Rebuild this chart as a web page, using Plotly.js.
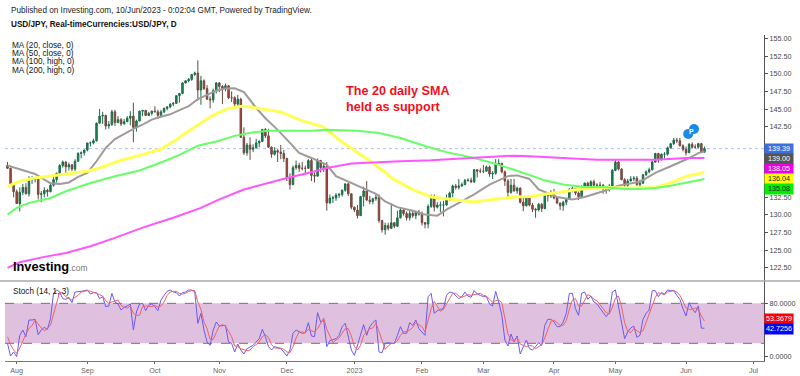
<!DOCTYPE html>
<html><head><meta charset="utf-8">
<script src="https://cdn.plot.ly/plotly-3.0.1.min.js"></script>
<style>html,body{margin:0;padding:0;background:#fff}#c{width:800px;height:376px}</style>
</head><body><div id="c"></div>
<script>
const opens=[137.0,136.6,134.3,133.3,131.6,133.2,133.9,133.0,135.0,135.0,135.1,132.9,133.0,133.5,133.3,134.2,135.0,135.9,137.0,137.5,136.8,137.1,136.5,137.6,138.7,138.8,139.2,140.2,140.2,140.5,143.0,144.0,144.1,142.6,142.8,144.6,143.1,143.5,142.9,143.2,143.7,144.0,142.4,143.3,144.7,144.8,144.1,144.4,144.7,144.6,144.1,144.6,145.1,145.3,145.7,145.8,146.9,147.2,148.7,149.0,149.2,149.9,150.1,147.7,149.0,147.9,146.4,146.3,147.6,148.7,148.2,147.9,148.3,146.6,146.6,145.7,146.4,141.0,138.8,139.9,139.3,139.5,140.2,140.4,142.1,141.2,139.6,138.6,139.1,138.9,138.7,138.0,135.3,134.3,136.7,137.0,136.6,136.6,136.6,137.7,135.6,135.5,137.7,136.7,136.9,131.7,132.4,132.4,132.8,132.9,133.5,134.4,133.0,131.1,130.7,129.9,132.6,133.4,132.1,131.9,132.3,132.5,129.2,127.9,128.5,128.1,128.9,128.4,129.6,130.7,130.2,129.6,130.2,129.9,130.4,130.1,128.9,128.7,131.2,132.6,131.1,131.4,131.4,131.4,132.4,133.1,134.1,133.9,134.1,134.3,134.9,134.9,134.7,136.4,136.2,136.2,136.2,136.8,135.8,135.9,137.2,137.3,136.1,134.8,133.2,134.2,133.4,133.8,131.8,131.3,132.5,131.4,130.8,130.7,131.5,130.9,132.9,132.7,132.8,132.4,131.7,131.3,131.8,132.2,133.6,133.7,133.1,132.6,133.8,134.5,134.1,134.7,134.2,134.2,134.2,133.7,133.6,133.9,136.3,137.5,136.5,135.0,134.2,134.8,135.1,135.2,134.3,134.5,135.7,136.1,136.4,137.5,138.7,137.9,138.6,138.6,139.5,140.1,140.6,140.5,139.8,139.3,138.8,140.0,139.6,139.6,140.1,138.9];
const highs=[137.5,136.7,134.5,133.6,133.9,134.4,134.5,135.5,135.5,135.3,135.2,133.4,133.9,133.7,134.6,135.5,136.0,137.2,137.7,137.6,137.4,137.2,137.9,138.9,139.0,139.1,140.2,140.4,140.8,143.1,145.0,144.6,144.2,143.3,144.9,144.9,144.0,143.7,143.6,144.0,144.7,145.9,143.5,144.8,144.9,144.9,144.6,144.8,145.4,144.9,144.9,145.2,145.4,145.8,146.0,146.9,147.2,148.8,149.1,149.4,149.9,150.3,151.9,149.7,149.2,148.4,146.8,147.9,148.8,148.8,148.4,148.6,148.4,147.5,146.8,147.0,146.6,142.4,140.2,141.0,140.0,140.8,140.6,142.2,142.3,142.2,139.7,139.6,139.3,139.9,139.2,138.1,135.9,137.0,137.7,137.4,137.5,137.0,137.9,138.2,136.0,138.0,137.8,137.4,137.5,132.9,132.7,133.1,133.1,133.6,134.4,134.5,133.0,131.2,131.4,132.7,134.0,134.8,132.7,132.3,132.9,132.9,129.3,128.9,128.9,131.6,129.0,130.6,131.1,130.8,130.5,130.6,130.6,130.6,130.7,130.5,129.0,131.5,132.9,132.9,131.8,131.9,132.0,132.9,133.3,134.3,134.4,135.1,134.6,135.1,135.2,135.3,136.5,136.5,136.6,137.1,137.0,137.0,136.2,137.9,137.9,137.4,136.3,135.1,135.1,135.1,134.0,133.9,132.6,132.7,132.6,131.7,131.0,131.7,131.7,132.9,133.0,133.5,133.7,132.6,131.7,132.0,132.4,133.8,134.0,133.8,133.3,134.2,134.6,134.7,134.9,135.0,134.5,134.7,134.4,133.9,134.4,136.5,137.8,137.6,136.6,135.2,135.1,135.5,135.5,135.5,135.0,135.8,136.3,136.7,137.7,138.8,138.8,138.7,138.9,139.7,140.2,140.9,140.9,140.9,140.0,139.7,140.2,140.3,140.0,140.2,140.2,139.7];
const lows=[136.5,134.2,132.5,131.6,130.5,132.8,132.9,132.6,134.4,134.6,132.2,131.8,132.5,132.6,133.2,134.0,134.6,135.8,136.7,135.8,136.3,136.2,136.2,137.6,138.0,138.4,139.0,139.7,140.0,140.4,143.0,142.9,142.1,142.2,142.6,142.6,143.0,142.6,142.8,143.2,142.7,140.3,141.8,143.3,144.0,144.0,144.0,144.1,144.6,143.6,143.9,144.4,144.8,145.1,145.4,145.8,145.9,147.1,148.6,148.8,149.0,149.7,146.2,145.6,147.7,146.3,145.1,145.9,147.2,147.4,145.7,147.5,146.4,146.0,145.3,145.2,140.9,138.5,138.4,137.8,138.9,139.4,139.6,140.4,140.9,139.5,138.1,138.4,137.5,137.9,137.5,134.8,133.6,134.2,136.4,136.1,136.3,135.9,136.5,134.8,134.6,135.4,136.0,136.1,130.6,131.6,131.7,132.0,132.4,132.6,133.3,132.7,130.8,130.4,129.5,129.9,131.2,132.0,131.5,131.5,132.0,128.9,127.5,127.2,127.8,128.0,128.1,128.3,129.5,129.9,129.2,129.2,129.6,129.4,129.9,128.5,128.1,128.1,131.0,130.5,130.9,130.4,129.8,131.3,132.0,132.5,133.6,133.6,134.0,134.2,134.7,134.5,134.5,135.3,135.9,135.9,136.1,135.4,135.1,135.7,137.1,135.9,134.1,132.3,133.0,133.3,133.0,131.6,130.5,131.2,131.2,130.4,129.6,130.5,130.4,130.8,131.9,132.4,132.2,131.5,130.7,130.6,131.4,132.2,133.2,132.8,132.1,132.5,133.8,133.8,134.1,134.0,133.9,134.0,133.0,133.0,133.3,133.8,136.2,136.3,134.9,133.5,133.6,134.8,134.8,134.1,133.8,134.4,135.5,135.9,136.3,137.4,137.4,137.7,138.0,138.4,139.4,139.9,140.2,139.7,139.0,138.4,138.8,139.4,139.4,139.4,138.8,138.8];
const closes=[136.6,134.3,133.3,131.6,133.2,133.9,133.0,135.0,135.0,135.1,132.9,133.0,133.5,133.3,134.2,135.0,135.9,137.0,137.5,136.8,137.1,136.5,137.6,138.7,138.8,139.2,140.2,140.2,140.5,143.0,144.0,144.1,142.6,142.8,144.6,143.1,143.5,142.9,143.2,143.7,144.0,142.4,143.3,144.7,144.8,144.1,144.4,144.7,144.6,144.1,144.6,145.1,145.3,145.7,145.8,146.9,147.2,148.7,149.0,149.2,149.9,150.1,147.7,149.0,147.9,146.4,146.3,147.6,148.7,148.2,147.9,148.3,146.6,146.6,145.7,146.4,141.0,138.8,139.9,139.3,139.5,140.2,140.4,142.1,141.2,139.6,138.6,139.1,138.9,138.7,138.0,135.3,134.3,136.7,137.0,136.6,136.6,136.6,137.7,135.6,135.5,137.7,136.7,136.9,131.7,132.4,132.4,132.8,132.9,133.5,134.4,133.0,131.1,130.7,129.9,132.6,133.4,132.1,131.9,132.3,132.5,129.2,127.9,128.5,128.1,128.9,128.4,129.6,130.7,130.2,129.6,130.2,129.9,130.4,130.1,128.9,128.7,131.2,132.6,131.1,131.4,131.4,131.4,132.4,133.1,134.1,133.9,134.1,134.3,134.9,134.9,134.7,136.4,136.2,136.2,136.2,136.8,135.8,135.9,137.2,137.3,136.1,134.8,133.2,134.2,133.4,133.8,131.8,131.3,132.5,131.4,130.8,130.7,131.5,130.9,132.9,132.7,132.8,132.4,131.7,131.3,131.8,132.2,133.6,133.7,133.1,132.6,133.8,134.5,134.1,134.7,134.2,134.2,134.2,133.7,133.6,133.9,136.3,137.5,136.5,135.0,134.2,134.8,135.1,135.2,134.3,134.5,135.7,136.1,136.4,137.5,138.7,137.9,138.6,138.6,139.5,140.1,140.6,140.5,139.8,139.3,138.8,140.0,139.6,139.6,140.1,138.9,139.39];

const ma20Bars=[0,3,6,9,12,14,17,20,23,26,29,32,35,38,41,44,47,50,53,56,59,62,65,68,71,74,77,81,84,88,92,95,99,104,107,112,116,120,123,127,132,136,140,143,147,152,157,163,166,170,173,179,184,188,194,199,206,211,216,221,225,227];
const ma20Vals=[137.0,136.6,136.2,135.8,135.0,134.5,134.4,134.6,135.4,135.95,137.6,139.5,140.75,141.5,142.2,142.8,143.5,143.9,144.25,144.85,145.4,146.4,147.0,147.6,147.9,147.95,147.4,145.15,143.7,142.05,140.2,138.8,138.07,137.1,135.5,134.5,133.8,133.0,131.9,131.1,130.6,130.05,129.9,130.75,131.7,132.9,134.3,135.5,135.6,135.1,133.6,132.55,132.2,132.55,133.35,134.15,134.7,135.95,136.9,137.85,138.75,139.0];
const ma50Bars=[0,4,9,15,21,26,30,37,44,50,55,57,62,67,72,77,81,89,95,103,108,115,119,126,132,138,143,152,158,165,170,179,187,195,203,211,216,221,227];
const ma50Vals=[134.06,134.77,135.24,135.57,135.95,136.2,136.65,137.74,138.54,139.34,140.66,141.3,142.75,144.15,145.1,145.43,145.15,144.6,143.5,142.45,140.66,138.5,137.36,135.0,133.6,132.55,132.27,131.84,132.17,132.55,132.6,133.2,133.68,133.9,133.8,133.9,134.53,135.47,136.04];
const ma100Bars=[0,3,7,14,19,27,35,43,51,56,62,68,74,80,85,99,104,114,121,128,137,143,152,158,165,170,175,181,188,194,201,206,211,216,221,227];
const ma100Vals=[130.05,131.0,131.7,132.4,133.35,134.53,135.47,136.3,137.6,138.5,139.8,140.4,141.2,141.7,141.94,141.94,142.08,141.94,141.6,140.9,139.63,138.9,138.07,137.36,136.4,135.7,134.9,134.3,133.97,133.97,133.68,133.68,133.82,134.15,134.53,135.08];
const ma200Bars=[0,4,12,19,27,35,44,54,63,69,77,82,91,99,104,112,119,128,138,147,158,165,170,181,192,203,211,217,221,227];
const ma200Vals=[122.5,123.3,124.06,124.6,125.57,126.75,128.2,129.6,131.0,132.2,133.6,134.2,135.24,136.04,136.65,137.27,137.46,137.6,137.74,137.93,138.2,138.4,138.3,138.07,137.83,137.83,137.83,137.97,138.07,138.05];

const stochK=[20,1,7,0,32,40,30,55,55,56,33,40,44,41,57,95,100,97,87,86,89,81,97,97,98,99,100,94,96,96,87,90,75,76,95,82,79,70,74,76,79,40,67,79,80,69,77,79,75,69,85,92,98,100,97,96,91,96,97,100,100,97,50,65,40,22,17,40,52,46,46,47,22,20,7,19,10,4,12,15,17,22,27,41,30,15,10,15,13,12,7,1,10,35,40,37,35,36,51,31,30,66,52,55,15,24,25,27,32,45,50,32,10,2,17,32,48,32,45,51,55,7,6,20,21,20,20,32,45,35,35,51,47,55,42,37,32,90,95,65,69,71,72,92,97,96,91,87,90,97,91,89,99,94,92,90,90,79,76,98,82,62,25,16,34,22,31,4,15,25,12,10,15,21,17,47,56,56,52,45,45,52,65,95,95,72,62,95,97,86,91,82,79,72,67,60,66,97,100,75,50,27,37,43,46,29,32,56,65,70,99,99,90,96,94,100,99,99,92,86,72,61,81,72,66,76,42.7256,42.7256];
const stochD=[30,18,10,5,13,24,34,42,47,55,48,43,39,42,47,64,84,97,95,90,87,85,89,92,97,98,99,98,97,95,93,91,84,80,82,84,85,77,74,73,76,65,62,62,75,76,75,75,77,74,76,82,92,97,98,98,95,94,95,98,99,99,82,71,52,42,26,26,36,46,48,46,38,30,16,15,12,11,9,10,15,18,22,30,33,29,18,13,13,13,11,7,6,15,28,37,37,36,41,39,37,42,49,58,41,31,21,25,28,35,42,42,31,15,10,17,32,37,42,43,50,38,23,11,16,20,20,24,32,37,38,40,44,51,48,45,37,53,72,83,76,68,71,78,87,95,95,91,89,91,93,92,93,94,95,92,91,86,82,84,85,81,56,34,25,24,29,19,17,15,17,16,12,15,18,28,40,53,55,51,47,47,54,71,85,87,76,76,85,93,91,86,84,78,73,66,64,74,88,91,75,51,38,36,42,39,36,39,51,64,78,89,96,95,93,97,98,99,97,92,83,73,71,71,73,71,61,53.3679];

const monthBars=[3,26,48,69,91,113,135,155,178,198,221,243];
const monthLabels=['Aug','Sep','Oct','Nov','Dec','2023','Feb','Mar','Apr','May','Jun','Jul'];
const priceTickVals=[122.5,125,127.5,130,132.5,135,137.5,140,142.5,145,147.5,150,152.5,155];
const priceTickText=['122.50','125.00','127.50','130.00','132.50','','','','142.50','145.00','147.50','150.00','152.50','155.00'];
const badgeBars=[221.7,223.6];
const badgePrices=[141.47,142.17];
const lastPrice=139.39;
const priceTags=['139.39','139.00','138.05','136.04','135.08'];
const stochTags=['53.3679','42.7256'];
const maLegend=['MA (20, close, 0)','MA (50, close, 0)','MA (100, high, 0)','MA (200, high, 0)'];

const TOP=35,BOT=361,SPLIT=281,L=5,R=764,W=800,H=376;
const py=p=>(BOT-p)/(BOT-TOP), px=p=>(p-L)/(R-L);
const FONT='"Liberation Sans",Arial,sans-serif';
const bars=closes.map((_,i)=>i);
const line=(x,y,color,width)=>({type:'scatter',mode:'lines',x,y,line:{color,width},hoverinfo:'skip',xaxis:'x',yaxis:'y'});

const traces=[
 {type:'candlestick',x:bars,open:opens,high:highs,low:lows,close:closes,xaxis:'x',yaxis:'y',whiskerwidth:0,
  increasing:{line:{color:'#1f6b4a',width:1},fillcolor:'#0f8a50'},
  decreasing:{line:{color:'#6a4a40',width:1},fillcolor:'#c8392e'},hoverinfo:'skip'},
 line(ma20Bars,ma20Vals,'#a09a9a',2),
 line(ma50Bars,ma50Vals,'#ffff55',3),
 line(ma100Bars,ma100Vals,'#66ff66',2),
 line(ma200Bars,ma200Vals,'#ff55ff',2),
 {type:'scatter',mode:'markers',x:badgeBars,y:badgePrices,marker:{color:'#1a8ae8',size:10},xaxis:'x',yaxis:'y',hoverinfo:'skip'},
 {type:'scatter',mode:'lines',x:bars,y:stochK,line:{color:'#6a5af0',width:1},xaxis:'x',yaxis:'y2',hoverinfo:'skip'},
 {type:'scatter',mode:'lines',x:bars,y:stochD,line:{color:'#f0606a',width:1},xaxis:'x',yaxis:'y2',hoverinfo:'skip'}
];

function note(text,xp,yp,size,opt){
  return Object.assign({text,xref:'paper',yref:'paper',x:px(xp),y:py(yp),xanchor:'left',yanchor:'middle',showarrow:false,align:'left',
    font:{family:FONT,size,color:'#111'}},opt||{});
}
function tag(text,yp,bg,fg){
  return {text,xref:'paper',yref:'paper',x:px(764.5),y:py(yp),xanchor:'left',yanchor:'middle',showarrow:false,align:'center',
    width:28,height:9.5,borderpad:0,bgcolor:bg,font:{family:FONT,size:7.2,color:fg}};
}
const annotations=[
 note('Published on Investing.com, 10/Jun/2023 - 0:02:04 GMT, Powered by TradingView.',9,10,8,{font:{family:FONT,size:8.2,color:'#222'}}),
 note('<b>USD/JPY, Real-timeCurrencies:USD/JPY, D</b>',9,25,8.2),
 ...maLegend.map((t,i)=>note(t,10,45+i*8.4,8.2)),
 note('<b>The 20 daily SMA<br>held as support</b>',344,99,12.6,{font:{family:FONT,size:12.6,color:'#f01020'}}),
 note('<b>Investing</b><span style="color:#777;font-size:8.5px">.com</span>',10.5,266,12.8,{font:{family:FONT,size:12.8,color:'#000'}}),
 note('Stoch (14, 1, 3)',10.5,291,8.2),
 {text:'<b>P</b>',xref:'x',yref:'y',x:222.7,y:141.85,showarrow:false,font:{family:FONT,size:7,color:'#fff'}},
 tag(priceTags[0],148.5,'#3f6fdc','#fff'),
 tag(priceTags[1],159,'#555555','#fff'),
 tag(priceTags[2],169,'#ee00ee','#fff'),
 tag(priceTags[3],178.7,'#ffff00','#222'),
 tag(priceTags[4],189,'#00ee00','#222'),
 tag(stochTags[0],319,'#ff0000','#fff'),
 tag(stochTags[1],329,'#0000ff','#fff')
];
const shapes=[
 {type:'rect',xref:'paper',yref:'y2',x0:0,x1:1,y0:20,y1:80,fillcolor:'#dfc0de',line:{width:0},layer:'below'},
 {type:'line',xref:'paper',yref:'y2',x0:0,x1:1,y0:20,y1:20,line:{color:'#806a80',width:1,dash:'dash'},layer:'below'},
 {type:'line',xref:'paper',yref:'y2',x0:0,x1:1,y0:80,y1:80,line:{color:'#806a80',width:1,dash:'dash'},layer:'below'},
 {type:'line',xref:'paper',yref:'y',x0:0,x1:1,y0:lastPrice,y1:lastPrice,line:{color:'#a9c2f2',width:1,dash:'dot'},layer:'below'},
 {type:'line',xref:'paper',yref:'paper',x0:px(0),x1:px(W),y0:py(SPLIT),y1:py(SPLIT),line:{color:'#a8a8a8',width:1.5}}
];
const axisFont={family:FONT,size:7.2,color:'#444'};
const layout={
 width:W,height:H,margin:{l:L,r:W-R,t:TOP,b:H-BOT,pad:0},paper_bgcolor:'#fff',plot_bgcolor:'#fff',showlegend:false,
 xaxis:{anchor:'y2',domain:[0,1],range:[-0.81,246.4],tickmode:'array',tickvals:monthBars,ticktext:monthLabels,ticks:'outside',ticklen:2,tickcolor:'#666',
   tickfont:{family:FONT,size:7.2,color:'#666'},showgrid:false,zeroline:false,showline:true,linecolor:'#777',linewidth:1,rangeslider:{visible:false},fixedrange:true},
 yaxis:{domain:[(BOT-SPLIT)/(BOT-TOP),1],anchor:'x',side:'right',range:[120.64,155.49],tickmode:'array',tickvals:priceTickVals,ticktext:priceTickText,ticks:'outside',ticklen:3,tickcolor:'#555',
   tickfont:axisFont,showgrid:false,zeroline:false,showline:true,linecolor:'#555',linewidth:1,fixedrange:true},
 yaxis2:{domain:[0,(BOT-SPLIT)/(BOT-TOP)],anchor:'x',side:'right',range:[-6.5,113.5],tickmode:'array',tickvals:[0,80],ticktext:['0.0000','80.0000'],ticks:'outside',ticklen:3,tickcolor:'#555',
   tickfont:axisFont,showgrid:false,zeroline:false,showline:true,linecolor:'#555',linewidth:1,fixedrange:true},
 annotations,shapes
};
Plotly.newPlot('c',traces,layout,{staticPlot:true,displayModeBar:false});
</script></body></html>
